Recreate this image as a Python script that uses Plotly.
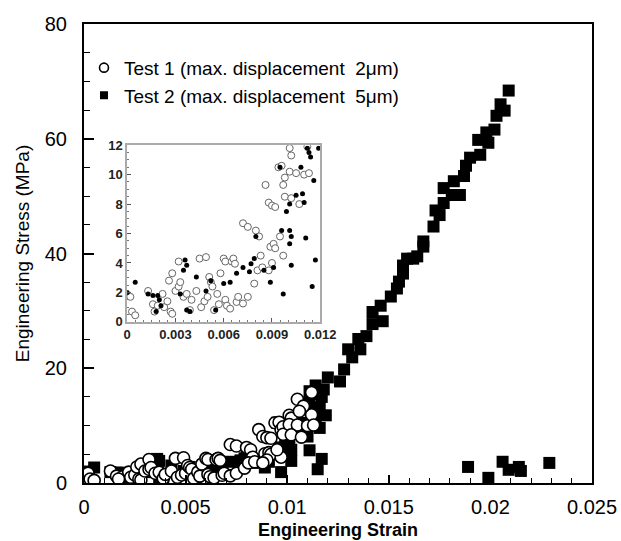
import plotly.graph_objects as go

# Test 1 (max. displacement 2um) - open circles
test1_strain = [0.0002, 0.0003, 0.0005, 0.0013, 0.0016, 0.0019, 0.0017, 0.0022, 0.0023, 0.0025,
                0.0027, 0.0028, 0.0026, 0.0028, 0.0032, 0.0030, 0.0032, 0.0033, 0.0035, 0.0037,
                0.0039, 0.0040, 0.0043, 0.0045, 0.0049, 0.0046, 0.0048, 0.0050, 0.0051, 0.0052,
                0.0053, 0.0054, 0.0056, 0.0057, 0.0058, 0.0060, 0.0061, 0.0061, 0.0062, 0.0064,
                0.0065, 0.0066, 0.0067, 0.0068, 0.0069, 0.0072, 0.0075, 0.0072, 0.0075, 0.0080,
                0.0082, 0.0083, 0.0079, 0.0081, 0.0084, 0.0086, 0.0088, 0.0090, 0.0092, 0.0089,
                0.0091, 0.0092, 0.0090, 0.0088, 0.0094, 0.0096, 0.0097, 0.0098, 0.0098, 0.0097,
                0.0095, 0.0101, 0.0102, 0.0101, 0.0105, 0.0102, 0.0107, 0.0110, 0.0112, 0.0113,
                0.0105, 0.0108, 0.0112, 0.0106]
test1_stress = [1.7, 0.7, 0.45, 2.1, 1.2, 1.1, 0.7, 1.9, 1.0, 1.4,
                0.7, 0.55, 2.8, 3.3, 4.1, 2.1, 2.4, 2.7, 1.7, 1.9,
                0.8, 1.5, 2.1, 4.3, 4.4, 1.0, 1.4, 1.7, 3.05, 2.7,
                2.4, 0.8, 1.9, 1.2, 3.3, 4.3, 4.1, 1.5, 1.1, 0.9,
                4.1, 4.3, 3.95, 1.35, 1.7, 1.25, 1.7, 6.7, 6.45, 6.2,
                5.8, 4.5, 2.6, 3.5, 3.7, 9.3, 8.1, 7.9, 7.8, 5.1,
                5.3, 5.0, 4.0, 3.5, 10.5, 10.6, 9.3, 9.8, 8.5, 4.5,
                5.8, 11.8, 11.3, 10.2, 10.1, 8.4, 8.0, 10.0, 11.9, 10.1,
                14.6, 13.4, 15.8, 12.5]

# Test 2 (max. displacement 5um) - filled squares
test2_strain = [0.0000, 0.0005, 0.0013, 0.0016, 0.0019, 0.0020, 0.0021, 0.0018, 0.0033, 0.0035,
                0.0037, 0.0036, 0.0037, 0.0039, 0.0043, 0.0049, 0.0052, 0.0055, 0.0060, 0.0064,
                0.0068, 0.0072, 0.0076, 0.0079, 0.0077, 0.0080, 0.0085, 0.0089, 0.0091, 0.0095,
                0.0096, 0.0097, 0.0099, 0.0101, 0.0101, 0.0102, 0.0102, 0.0101, 0.0105, 0.0108,
                0.0109, 0.0110, 0.0111, 0.0112, 0.0113, 0.0114, 0.0115, 0.0116, 0.0117, 0.0119,
                0.0108, 0.0111, 0.0113, 0.0114, 0.0116, 0.0112, 0.0117,
                0.0111, 0.0118, 0.0120, 0.0126, 0.0128, 0.0132, 0.0130, 0.0136, 0.0135, 0.0139,
                0.0142, 0.0147, 0.0142, 0.0146, 0.0151, 0.0154, 0.0155, 0.0157, 0.0157, 0.0159,
                0.0162, 0.0164, 0.0167, 0.0167, 0.0172, 0.0175, 0.0173, 0.0177, 0.0181, 0.0185,
                0.0177, 0.0182, 0.0187, 0.0188, 0.0190, 0.0195, 0.0199, 0.0194, 0.0198, 0.0202,
                0.0203, 0.0207, 0.0205, 0.0209,
                0.0189, 0.0199, 0.0206, 0.0209, 0.0214, 0.0215, 0.0229]
test2_stress = [2.0, 2.7, 1.9, 1.8, 1.8, 1.5, 1.1, 0.7, 1.9, 3.5,
                3.85, 4.2, 0.8, 0.7, 3.05, 2.1, 2.8, 0.8, 2.6, 2.7,
                3.3, 3.7, 3.4, 4.3, 3.95, 5.8, 3.5, 2.7, 3.7, 10.5,
                6.2, 1.9, 7.5, 5.3, 6.2, 5.8, 3.85, 8.0, 8.6, 10.5,
                8.7, 8.1, 5.7, 11.8, 11.5, 11.2, 2.4, 9.6, 4.2, 11.8,
                12.8, 14.2, 15.5, 17.0, 13.2, 13.0, 15.0,
                16.0, 16.3, 18.4, 17.7, 19.8, 21.9, 23.3, 23.3, 25.1, 25.6,
                27.7, 28.2, 29.8, 30.9, 32.5, 33.9, 35.1, 36.5, 37.9, 39.1,
                39.1, 39.5, 41.2, 42.1, 44.7, 46.7, 47.5, 48.8, 50.2, 50.2,
                51.4, 52.6, 53.5, 55.3, 56.7, 57.2, 59.3, 59.8, 61.1, 61.6,
                64.0, 64.9, 66.0, 68.4,
                2.8, 0.9, 3.7, 2.3, 2.8, 2.1, 3.5]

main_xticks = [0, 0.005, 0.01, 0.015, 0.02, 0.025]
main_xticklabels = ["0", "0.005", "0.01", "0.015", "0.02", "0.025"]
inset_xticks = [0, 0.003, 0.006, 0.009, 0.012]
inset_xticklabels = ["0", "0.003", "0.006", "0.009", "0.012"]

NB = "\u00a0"
FONT = "Liberation Sans, Arial"
fig = go.Figure()

# main plot (Test 2 under the open circles)
fig.add_trace(go.Scatter(
    x=test2_strain, y=test2_stress, mode="markers", showlegend=False,
    marker=dict(symbol="square", size=12, color="black", line=dict(width=0))))
fig.add_trace(go.Scatter(
    x=test1_strain, y=test1_stress, mode="markers", showlegend=False,
    marker=dict(symbol="circle", size=12, color="white", line=dict(width=1.6, color="black"))))

# legend entries with small symbols
fig.add_trace(go.Scatter(
    x=[None], y=[None], mode="markers", name="Test 1 (max. displacement " + NB + "2\u03bcm)",
    marker=dict(symbol="circle", size=9, color="white", line=dict(width=1.6, color="black"))))
fig.add_trace(go.Scatter(
    x=[None], y=[None], mode="markers", name="Test 2 (max. displacement " + NB + "5\u03bcm)",
    marker=dict(symbol="square", size=8, color="black", line=dict(width=0))))

# inset
fig.add_trace(go.Scatter(
    x=test1_strain, y=test1_stress, mode="markers", xaxis="x2", yaxis="y2", showlegend=False,
    marker=dict(symbol="circle", size=7, color="white", line=dict(width=1, color="#666"))))
fig.add_trace(go.Scatter(
    x=test2_strain, y=test2_stress, mode="markers", xaxis="x2", yaxis="y2", showlegend=False,
    marker=dict(symbol="circle", size=5, color="black", line=dict(width=0))))

axis_font = dict(family=FONT, size=20, color="black")
inset_font = dict(family=FONT, size=13, color="#222", weight="bold")

fig.update_layout(
    width=621, height=541,
    margin=dict(l=84, r=29, t=24, b=58),
    paper_bgcolor="white", plot_bgcolor="white",
    font=dict(family=FONT, color="black"),
    showlegend=True,
    legend=dict(x=0.0, y=0.946, xanchor="left", yanchor="top", bgcolor="rgba(0,0,0,0)",
                font=dict(size=19, color="black"), itemsizing="trace", tracegroupgap=0),
    xaxis=dict(range=[0, 0.025], tickvals=main_xticks, ticktext=main_xticklabels,
               automargin=False,
               showline=True, linecolor="black", linewidth=2, mirror=True,
               ticks="inside", ticklen=8, tickwidth=1.5, tickcolor="black",
               minor=dict(dtick=0.001, ticks="inside", ticklen=5, tickcolor="black", tickwidth=1.2),
               showgrid=False, zeroline=False, tickfont=axis_font, ticklabelstandoff=5,
               title=dict(text="<b>Engineering Strain</b>",
                          font=dict(size=18, color="black"), standoff=6)),
    yaxis=dict(range=[0, 80], dtick=20, automargin=False,
               showline=True, linecolor="black", linewidth=2, mirror=True,
               ticks="inside", ticklen=10, tickwidth=1.5, tickcolor="black",
               minor=dict(dtick=5, ticks="inside", ticklen=6, tickcolor="black", tickwidth=1.2),
               showgrid=False, zeroline=False, tickfont=axis_font, ticklabelstandoff=11,
               title=dict(text="Engineering Stress (MPa)",
                          font=dict(size=19, color="black"), standoff=10)),
    xaxis2=dict(domain=[0.085, 0.465], anchor="y2", range=[0, 0.012], automargin=False,
                tickvals=inset_xticks, ticktext=inset_xticklabels,
                showline=True, linecolor="#aaa", linewidth=1.5, mirror=True,
                ticks="inside", ticklen=4, tickcolor="#555",
                minor=dict(dtick=0.0005, ticks="inside", ticklen=2, tickcolor="#777"),
                showgrid=False, zeroline=False, tickfont=inset_font),
    yaxis2=dict(domain=[0.351, 0.736], anchor="x2", range=[0, 12], dtick=2, automargin=False,
                showline=True, linecolor="#aaa", linewidth=1.5, mirror=True,
                ticks="inside", ticklen=4, tickcolor="#555",
                minor=dict(dtick=0.5, ticks="inside", ticklen=2, tickcolor="#777"),
                showgrid=False, zeroline=False, tickfont=inset_font),
)

# drop the page's default body margin so the 621x541 figure fills the window
fig.write_html("out.html", config={"displayModeBar": False},
               post_script="document.body.style.margin='0';")
